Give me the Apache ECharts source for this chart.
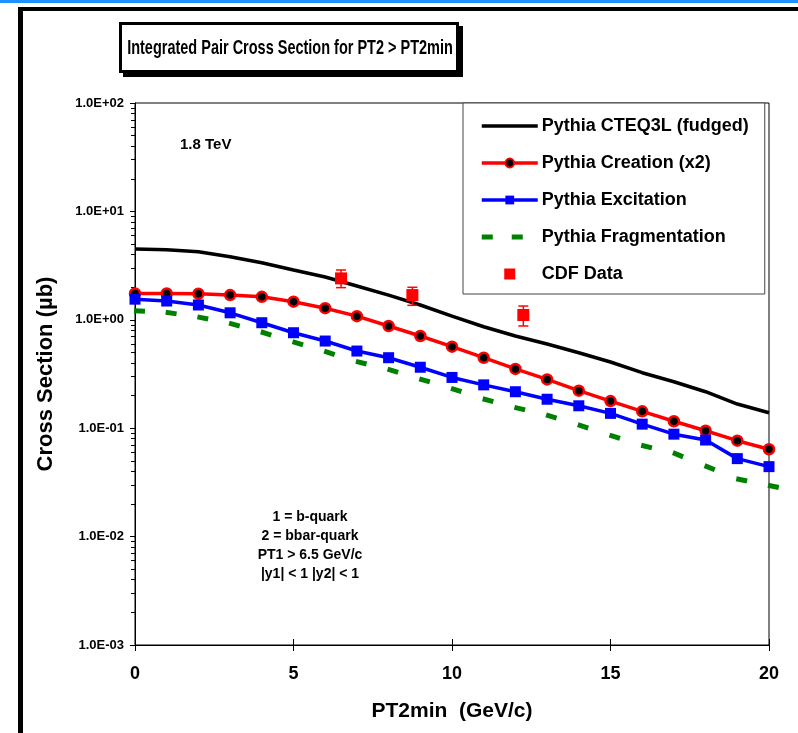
<!DOCTYPE html>
<html>
<head>
<meta charset="utf-8">
<script src="https://cdn.jsdelivr.net/npm/echarts@6/dist/echarts.min.js"></script>
<style>
html,body{margin:0;padding:0;background:#fff;}
#chart{width:798px;height:733px;}
</style>
</head>
<body>
<div id="chart"></div>
<script>
// ---- data ----
const ptMin = [0,1,2,3,4,5,6,7,8,9,10,11,12,13,14,15,16,17,18,19,20];
const cteq3l = [4.50,4.43,4.25,3.82,3.36,2.88,2.48,2.05,1.69,1.37,1.08,0.863,0.709,0.598,0.497,0.408,0.325,0.268,0.217,0.167,0.139];
const creation = [1.75,1.75,1.74,1.69,1.63,1.47,1.28,1.08,0.877,0.709,0.565,0.447,0.352,0.282,0.222,0.178,0.143,0.116,0.0948,0.0767,0.064];
const excitation = [1.55,1.49,1.37,1.16,0.94,0.760,0.637,0.515,0.447,0.365,0.294,0.251,0.217,0.185,0.161,0.137,0.109,0.0881,0.0778,0.0524,0.0442];
const fragmentation = [1.21,1.17,1.06,0.925,0.771,0.624,0.510,0.412,0.348,0.284,0.232,0.186,0.155,0.132,0.107,0.0857,0.0692,0.059,0.0448,0.034,0.0296];
const cdfX = [6.5, 8.75, 12.25];
const cdfY = [2.41, 1.69, 1.107];
const cdfLow = [1.98, 1.36, 0.877];
const cdfHigh = [2.88, 1.995, 1.34];
const yMajorTicks = [0.001, 0.01, 0.1, 1, 10, 100];
const xTicks = [0, 5, 10, 15, 20];
const seriesNames = ['Pythia CTEQ3L (fudged)', 'Pythia Creation (x2)', 'Pythia Excitation', 'Pythia Fragmentation', 'CDF Data'];

// ---- helpers ----
const yMinorTicks = [];
for (let k = 0; k < yMajorTicks.length - 1; k++) {
  for (let m = 2; m <= 9; m++) yMinorTicks.push(+(m * yMajorTicks[k]).toPrecision(3));
}
function sci(v) {
  const e = Math.round(Math.log10(v));
  const m = (v / Math.pow(10, e)).toFixed(1);
  return m + 'E' + (e < 0 ? '-' : '+') + String(Math.abs(e)).padStart(2, '0');
}
const pairs = (xs, ys) => xs.map((x, i) => [x, ys[i]]);
const FONT = '"Liberation Sans", Arial, sans-serif';
const BOX = ' M0,0 L0.01,0 L0,0.01 Z M56,11 L55.99,11 L56,10.99 Z';

const chart = echarts.init(document.getElementById('chart'), null, {renderer: 'canvas'});

const option = {
  backgroundColor: '#ffffff',
  animation: false,
  grid: {left: 135, top: 103, right: 29, bottom: 88, show: true, borderColor: '#000', borderWidth: 1, backgroundColor: '#fff'},
  xAxis: [{
    type: 'value', min: 0, max: 20, interval: 5,
    axisLine: {lineStyle: {color: '#000', width: 1}},
    axisTick: {show: true, length: 6, lineStyle: {color: '#000'}},
    axisLabel: {color: '#000', fontWeight: 'bold', fontSize: 18, fontFamily: FONT, margin: 20},
    splitLine: {show: false},
    name: 'PT2min  (GeV/c)', nameLocation: 'middle', nameGap: 56,
    nameTextStyle: {color: '#000', fontWeight: 'bold', fontSize: 21, fontFamily: FONT}
  }, {
    type: 'value', min: 0, max: 20, interval: 5, position: 'bottom',
    axisLine: {show: false}, axisLabel: {show: false}, splitLine: {show: false},
    axisTick: {show: true, inside: true, length: 6, lineStyle: {color: '#000'}}
  }],
  yAxis: [{
    type: 'log', logBase: 10, min: 0.001, max: 100,
    axisLine: {show: true, lineStyle: {color: '#000', width: 1}},
    axisTick: {show: true, length: 5, customValues: yMajorTicks, lineStyle: {color: '#000'}},
    axisLabel: {color: '#000', fontWeight: 'bold', fontSize: 13, fontFamily: FONT, margin: 11,
      customValues: yMajorTicks, formatter: sci},
    splitLine: {show: false},
    name: 'Cross Section (\u00b5b)', nameLocation: 'middle', nameGap: 78, nameRotate: 90,
    nameTextStyle: {color: '#000', fontWeight: 'bold', fontSize: 22, fontFamily: FONT}
  }, {
    type: 'log', logBase: 10, min: 0.001, max: 100, position: 'left',
    axisLine: {show: false}, axisLabel: {show: false}, splitLine: {show: false},
    axisTick: {show: true, length: 4, customValues: yMinorTicks, lineStyle: {color: '#000'}}
  }],
  legend: {
    orient: 'vertical', left: 463, top: 103, width: 300,
    padding: [14, 16, 11, 17], itemGap: 19, itemWidth: 56, itemHeight: 11,
    backgroundColor: '#fff', borderColor: '#444', borderWidth: 1,
    lineStyle: {width: 3.5},
    textStyle: {color: '#000', fontWeight: 'bold', fontSize: 18, lineHeight: 18, fontFamily: FONT, padding: [0,0,0,-1]},
    data: [
      {name: seriesNames[0], icon: 'path://M0,3.75 L56,3.75 L56,7.25 L0,7.25 Z' + BOX, itemStyle: {color: '#000', borderWidth: 0}},
      {name: seriesNames[1]},
      {name: seriesNames[2]},
      {name: seriesNames[3], icon: 'path://M0,3 L11,3 L11,8 L0,8 Z M30,3 L41,3 L41,8 L30,8 Z' + BOX,
        itemStyle: {color: '#008000', borderWidth: 0}},
      {name: seriesNames[4], icon: 'path://M22.5,0 L33.5,0 L33.5,11 L22.5,11 Z' + BOX,
        itemStyle: {color: '#ff0000', borderWidth: 0}}
    ]
  },
  graphic: [
    {type: 'rect', shape: {x: 0, y: 0, width: 798, height: 3}, style: {fill: '#1E90FF'}, z: 100},
    {type: 'rect', shape: {x: 18, y: 7, width: 780, height: 4}, style: {fill: '#000'}, z: 100},
    {type: 'rect', shape: {x: 18, y: 7, width: 5, height: 726}, style: {fill: '#000'}, z: 100},
    {type: 'rect', shape: {x: 123, y: 26, width: 340, height: 51}, style: {fill: '#000'}, z: 100},
    {type: 'rect', shape: {x: 120.5, y: 23.5, width: 337, height: 48}, style: {fill: '#fff', stroke: '#000', lineWidth: 3}, z: 101},
    {type: 'text', x: 290, y: 48, scaleX: 0.69, z: 102,
      style: {text: 'Integrated Pair Cross Section for PT2 > PT2min', fill: '#000', font: 'bold 21px ' + FONT, textAlign: 'center', textVerticalAlign: 'middle'}},
    {type: 'text', x: 180, y: 145, z: 102,
      style: {text: '1.8 TeV', fill: '#000', font: 'bold 15px ' + FONT, textAlign: 'left', textVerticalAlign: 'middle'}},
    {type: 'text', x: 310, y: 546, z: 102,
      style: {text: '1 = b-quark\n2 = bbar-quark\nPT1 > 6.5 GeV/c\n|y1| < 1 |y2| < 1', fill: '#000', font: 'bold 14px ' + FONT,
        lineHeight: 19, textAlign: 'center', textVerticalAlign: 'middle'}}
  ],
  series: [
    {
      name: seriesNames[0], type: 'line', data: pairs(ptMin, cteq3l), showSymbol: false, symbol: 'none',
      lineStyle: {color: '#000', width: 3.5}, itemStyle: {color: '#000'}, z: 2
    },
    {
      name: seriesNames[1], type: 'line', data: pairs(ptMin, creation), symbol: 'circle', symbolSize: 10,
      lineStyle: {color: '#ff0000', width: 3.5}, itemStyle: {color: '#000', borderColor: '#ff0000', borderWidth: 2.5}, z: 3
    },
    {
      name: seriesNames[2], type: 'line', data: pairs(ptMin, excitation), symbol: 'rect', symbolSize: 11,
      lineStyle: {color: '#0000ff', width: 3.5}, itemStyle: {color: '#0000ff'}, z: 4
    },
    {
      name: seriesNames[3], type: 'custom', data: pairs(ptMin, fragmentation), clip: false,
      itemStyle: {color: '#008000'}, z: 5,
      encode: {x: 0, y: 1},
      renderItem: function (params, api) {
        const i = params.dataIndex;
        const n = ptMin.length;
        const p = api.coord([ptMin[i], fragmentation[i]]);
        let a, b;
        if (i < n - 1) { a = p; b = api.coord([ptMin[i + 1], fragmentation[i + 1]]); }
        else { a = api.coord([ptMin[i - 1], fragmentation[i - 1]]); b = p; }
        const dx = b[0] - a[0], dy = b[1] - a[1];
        const len = Math.sqrt(dx * dx + dy * dy) || 1;
        const L = 11;
        return {
          type: 'line',
          shape: {x1: p[0] - 1, y1: p[1] - dy / len, x2: p[0] - 1 + dx / len * L, y2: p[1] - dy / len + dy / len * L},
          style: {stroke: '#008000', lineWidth: 5, lineCap: 'butt'}
        };
      }
    },
    {
      name: seriesNames[4], type: 'custom', data: cdfX.map((x, i) => [x, cdfY[i], cdfLow[i], cdfHigh[i]]),
      itemStyle: {color: '#ff0000'}, z: 6,
      encode: {x: 0, y: [1, 2, 3]},
      renderItem: function (params, api) {
        const x = api.value(0);
        const c = api.coord([x, api.value(1)]);
        const lo = api.coord([x, api.value(2)]);
        const hi = api.coord([x, api.value(3)]);
        const cap = 5;
        const s = 12;
        return {
          type: 'group',
          children: [
            {type: 'line', shape: {x1: c[0], y1: lo[1], x2: c[0], y2: hi[1]}, style: {stroke: '#ff0000', lineWidth: 1.5}},
            {type: 'line', shape: {x1: c[0] - cap, y1: lo[1], x2: c[0] + cap, y2: lo[1]}, style: {stroke: '#ff0000', lineWidth: 1.5}},
            {type: 'line', shape: {x1: c[0] - cap, y1: hi[1], x2: c[0] + cap, y2: hi[1]}, style: {stroke: '#ff0000', lineWidth: 1.5}},
            {type: 'rect', shape: {x: c[0] - s / 2, y: c[1] - s / 2, width: s, height: s}, style: {fill: '#ff0000'}}
          ]
        };
      }
    }
  ]
};
chart.setOption(option);
</script>
</body>
</html>
